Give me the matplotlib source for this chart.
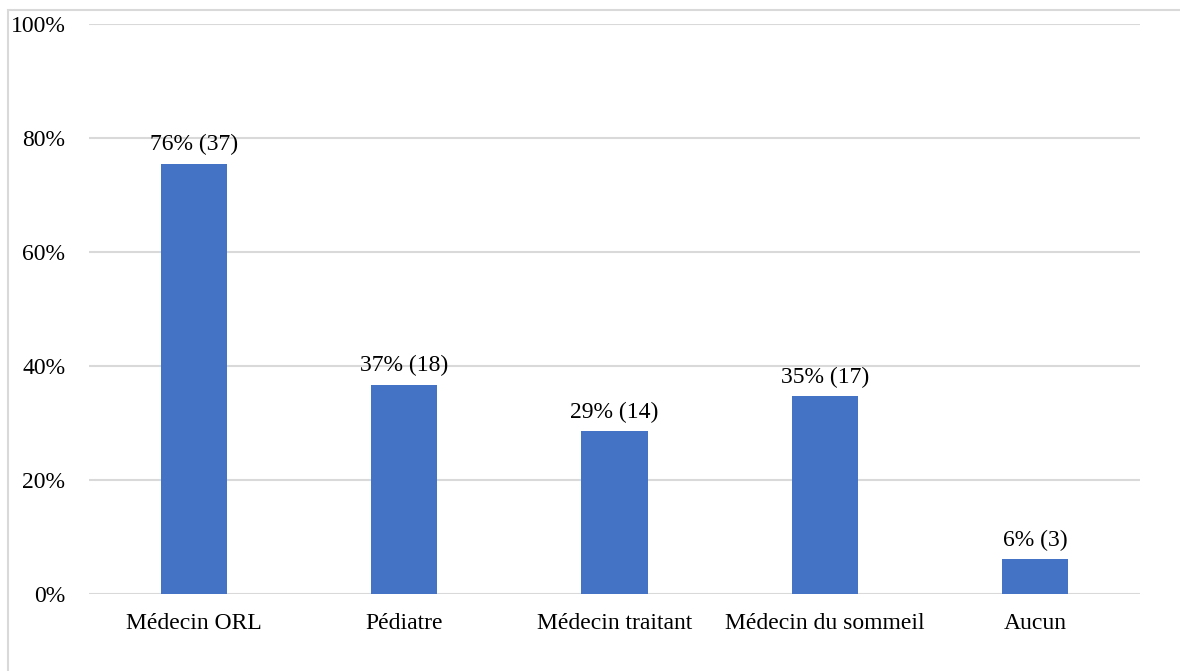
import matplotlib.pyplot as plt
from matplotlib.patches import Rectangle
from matplotlib.ticker import PercentFormatter

categories = ['Médecin ORL', 'Pédiatre', 'Médecin traitant', 'Médecin du sommeil', 'Aucun']
counts = [37, 18, 14, 17, 3]
total = 49
pct = [c / total * 100 for c in counts]
labels = ['76% (37)', '37% (18)', '29% (14)', '35% (17)', '6% (3)']

plt.rcParams['font.family'] = ['Liberation Serif', 'DejaVu Serif']

fig = plt.figure(figsize=(11.8, 6.71), dpi=100)
fig.patches.append(Rectangle((8 / 1180, -0.1), 1.2, 1 - 10 / 671 + 0.1,
                             transform=fig.transFigure, fill=False,
                             edgecolor='#d9d9d9', linewidth=1.5))
ax = fig.add_axes([89 / 1180, 1 - 594 / 671, (1140 - 89) / 1180, (594 - 24) / 671])

x = range(len(categories))
ax.bar(x, pct, width=0.314, color='#4472C4', zorder=3)
for xi, p, lab in zip(x, pct, labels):
    ax.text(xi, p + 1.5, lab, ha='center', va='bottom', fontsize=17)

ax.set_xlim(-0.5, len(categories) - 0.5)
ax.set_ylim(0, 100)
ax.set_yticks(range(0, 101, 20))
ax.yaxis.set_major_formatter(PercentFormatter(decimals=0))
ax.set_xticks(list(x))
ax.set_xticklabels(categories)
ax.tick_params(axis='both', length=0, labelsize=17, colors='black')
ax.tick_params(axis='y', pad=17)
ax.tick_params(axis='x', pad=14)
ax.grid(axis='y', color='#d9d9d9', linewidth=1.5, zorder=0)
for s in ax.spines.values():
    s.set_visible(False)

fig.savefig('out.png', dpi=100)
